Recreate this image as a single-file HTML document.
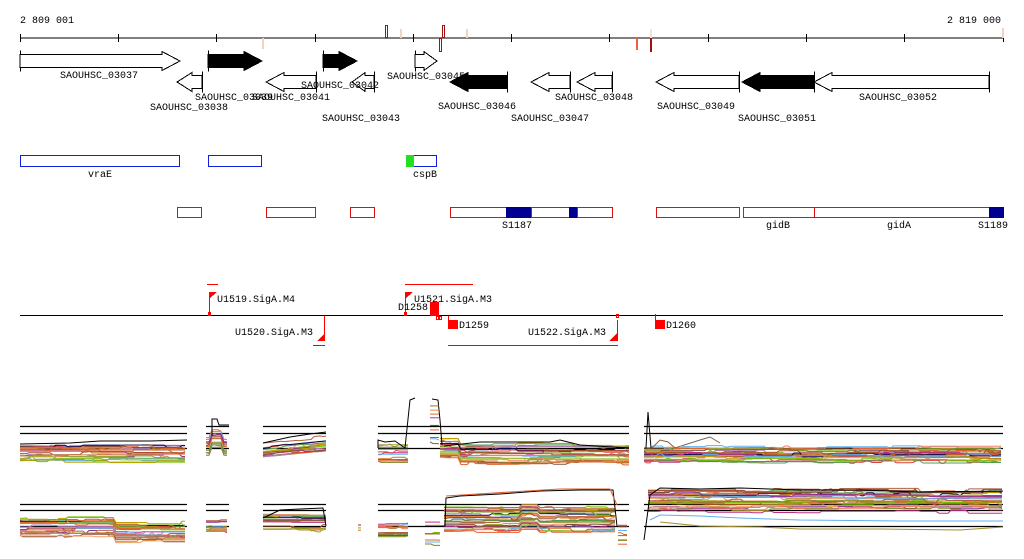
<!DOCTYPE html>
<html><head><meta charset="utf-8"><style>
html,body{margin:0;padding:0;background:#fff;width:1024px;height:559px;overflow:hidden}
svg text{font-family:"Liberation Mono","DejaVu Sans Mono",monospace;font-size:10px;fill:#000}
</style></head><body>
<svg id="s" width="1024" height="559" viewBox="0 0 1024 559" xmlns="http://www.w3.org/2000/svg" shape-rendering="crispEdges">
<text x="20" y="23">2 809 001</text>
<text x="947" y="23">2 819 000</text>
<line x1="20" y1="38" x2="1003" y2="38" stroke="#000"/>
<g stroke="#000">
<line x1="20.5" y1="34" x2="20.5" y2="42"/><line x1="118.5" y1="34" x2="118.5" y2="42"/><line x1="216.5" y1="34" x2="216.5" y2="42"/><line x1="315.5" y1="34" x2="315.5" y2="42"/><line x1="413.5" y1="34" x2="413.5" y2="42"/><line x1="511.5" y1="34" x2="511.5" y2="42"/><line x1="609.5" y1="34" x2="609.5" y2="42"/><line x1="708.5" y1="34" x2="708.5" y2="42"/><line x1="806.5" y1="34" x2="806.5" y2="42"/><line x1="904.5" y1="34" x2="904.5" y2="42"/><line x1="1003.5" y1="34" x2="1003.5" y2="42"/>
</g>
<g fill="none">
<rect x="385.5" y="25.5" width="2" height="12" stroke="#a01010"/>
<rect x="400.5" y="29.5" width="1" height="8" stroke="#f8d0c0"/>
<rect x="442.5" y="25.5" width="2" height="12" stroke="#a01010"/>
<rect x="439.5" y="38.5" width="2" height="13" stroke="#a01010"/>
<rect x="466.5" y="29.5" width="1" height="8" stroke="#f8d0c0"/>
<rect x="262.5" y="38.5" width="1" height="10" stroke="#f8d0c0"/>
<rect x="636.5" y="38.5" width="1" height="11" stroke="#f06040"/>
<rect x="650.5" y="38.5" width="1" height="13" stroke="#a01010"/>
<rect x="650.5" y="29.5" width="1" height="8" stroke="#f8e0d8"/>
<rect x="1002.5" y="28.5" width="1" height="9" stroke="#f8d0c0"/>
</g>
<g id="genes" stroke="#000" stroke-width="1"></g>
<g>
<text x="60" y="78">SAOUHSC_03037</text>
<text x="150" y="110">SAOUHSC_03038</text>
<text x="195" y="100">SAOUHSC_03039</text>
<text x="252" y="100">SAOUHSC_03041</text>
<text x="301" y="88">SAOUHSC_03042</text>
<text x="322" y="121">SAOUHSC_03043</text>
<text x="387" y="79">SAOUHSC_03045</text>
<text x="438" y="109">SAOUHSC_03046</text>
<text x="511" y="121">SAOUHSC_03047</text>
<text x="555" y="100">SAOUHSC_03048</text>
<text x="657" y="109">SAOUHSC_03049</text>
<text x="738" y="121">SAOUHSC_03051</text>
<text x="859" y="100">SAOUHSC_03052</text>
</g>
<g fill="none" stroke="#1020e0">
<rect x="20.5" y="155.5" width="159" height="11"/>
<rect x="208.5" y="155.5" width="53" height="11"/>
<rect x="413.5" y="155.5" width="23" height="11"/>
</g>
<rect x="406" y="155" width="8" height="12" fill="#20e020"/>
<text x="88" y="177">vraE</text>
<text x="413" y="177">cspB</text>
<g fill="none" stroke="#e01010">
<rect x="177.5" y="207.5" width="24" height="10"/>
<rect x="266.5" y="207.5" width="49" height="10"/>
<rect x="350.5" y="207.5" width="24" height="10"/>
<rect x="450.5" y="207.5" width="162" height="10"/>
<rect x="656.5" y="207.5" width="83" height="10"/>
<rect x="743.5" y="207.5" width="71" height="10"/>
<rect x="814.5" y="207.5" width="175" height="10"/>
</g>
<rect x="506" y="207" width="25" height="11" fill="#000090"/>
<rect x="569" y="207" width="8" height="11" fill="#000090"/>
<rect x="989" y="207" width="15" height="11" fill="#000090"/>
<line x1="531.5" y1="207" x2="531.5" y2="218" stroke="#e01010"/>
<line x1="577.5" y1="207" x2="577.5" y2="218" stroke="#e01010"/>
<text x="502" y="228">S1187</text>
<text x="766" y="228">gidB</text>
<text x="887" y="228">gidA</text>
<text x="978" y="228">S1189</text>
<line x1="20" y1="315.5" x2="1003" y2="315.5" stroke="#000"/>
<g fill="#f00" stroke="none">
<rect x="207" y="284" width="11" height="1"/>
<rect x="209" y="292" width="1" height="24"/>
<polygon points="209,292 217,292 209,299"/>
<rect x="208" y="312" width="3" height="4"/>
<rect x="405" y="284" width="68" height="1"/>
<rect x="405" y="292" width="1" height="24"/>
<polygon points="405,292 413,292 405,299"/>
<rect x="404" y="312" width="3" height="4"/>
<rect x="430" y="302" width="9" height="14"/>
<rect x="324" y="316" width="1" height="24"/>
<polygon points="325,333 325,341 317,341"/>
<rect x="313" y="345" width="12" height="1"/>
<rect x="448" y="316" width="1" height="4"/>
<rect x="448" y="320" width="10" height="9"/>
<rect x="617" y="320" width="1" height="21"/>
<polygon points="617,333 617,341 609,341"/>
<rect x="448" y="345" width="170" height="1"/>
<rect x="655" y="314" width="1" height="6"/>
<rect x="655" y="320" width="10" height="9"/>
</g>
<rect x="436.5" y="316.5" width="2" height="3" fill="none" stroke="#f00"/>
<rect x="439.5" y="316.5" width="2" height="3" fill="none" stroke="#f00"/>
<rect x="616.5" y="314.5" width="2" height="3" fill="none" stroke="#f00"/>
<text x="217" y="302">U1519.SigA.M4</text>
<text x="414" y="302">U1521.SigA.M3</text>
<text x="398" y="310">D1258</text>
<text x="235" y="335">U1520.SigA.M3</text>
<text x="459" y="328">D1259</text>
<text x="528" y="335">U1522.SigA.M3</text>
<text x="666" y="328">D1260</text>
<g id="plots" fill="none" stroke-width="1" shape-rendering="auto"></g>
</svg>
<script>
(function(){
var NS="http://www.w3.org/2000/svg";
var g=document.getElementById('genes');
function el(t,a,p){var e=document.createElementNS(NS,t);for(var k in a)e.setAttribute(k,a[k]);(p||g).appendChild(e);return e;}
function arrow(x1,x2,cy,dir,fill){
 var h=Math.min(18,(x2-x1)*0.6), b=6.5, H=9.5, pts;
 if(dir>0){pts=[[x1,cy-b],[x2-h,cy-b],[x2-h,cy-H],[x2,cy],[x2-h,cy+H],[x2-h,cy+b],[x1,cy+b]];
   el('line',{x1:x1+.5,y1:cy-H-1,x2:x1+.5,y2:cy+H+1});}
 else{pts=[[x2,cy-b],[x1+h,cy-b],[x1+h,cy-H],[x1,cy],[x1+h,cy+H],[x1+h,cy+b],[x2,cy+b]];
   el('line',{x1:x2+.5,y1:cy-H-1,x2:x2+.5,y2:cy+H+1});}
 el('polygon',{points:pts.map(function(p){return p.join(',')}).join(' '),fill:fill});
}
arrow(20,180,61,1,'#fff');
arrow(208,262,61,1,'#000');
arrow(323,357,61,1,'#000');
arrow(415,437,61,1,'#fff');
arrow(177,202,82,-1,'#fff');
arrow(266,316,82,-1,'#fff');
arrow(352,374,82,-1,'#fff');
arrow(450,507,82,-1,'#000');
arrow(531,570,82,-1,'#fff');
arrow(577,612,82,-1,'#fff');
arrow(656,739,82,-1,'#fff');
arrow(742,814,82,-1,'#000');
arrow(814,989,82,-1,'#fff');
var P=document.getElementById('plots');
var seed=7;function rnd(){seed=(seed*16807)%2147483647;return seed/2147483647;}
var cols=['#e06030','#d07020','#70c000','#a05030','#c03080','#60b0f0','#808020','#b06040','#903090','#f08060','#a0a040','#c08040','#e04040','#50a050','#b080c0','#000050','#c0a000','#805040','#f0a060','#90c030'];
function hline(x1,x2,y){el('line',{x1:x1,y1:y+.5,x2:x2,y2:y+.5,stroke:'#000','stroke-width':1.3},P);}
function bundle(x1,x2,ymin,ymax,n,f){
 for(var i=0;i<n;i++){
  var base=ymin+(ymax-ymin)*rnd(), y=base, pts=[], c=cols[i%cols.length];
  for(var x=x1;x<=x2;x+=3){
   if(rnd()<0.12) y=base+(rnd()-0.5)*4;
   var yy=y+(f?f(x,i):0);
   pts.push(x+','+yy.toFixed(1));
  }
  el('polyline',{points:pts.join(' '),stroke:c},P);
 }
}
var segs=[[20,187],[206,229],[263,326],[378,629],[644,1003]];
segs.forEach(function(s){[426,433,448].forEach(function(y){hline(s[0],s[1],y);});});
bundle(20,187,446,461,22);
el('polyline',{points:'20,444 70,443 100,441 150,441 187,440',stroke:'#000'},P);
bundle(206,229,438,456,14,function(x){return x>210&&x<222?-8:0;});
el('polyline',{points:'212,436 212,419 217,419 219,425 229,425',stroke:'#000'},P);
bundle(263,326,443,458,18,function(x){return -(x-263)*0.1;});
el('polyline',{points:'263,443 290,437 310,434 326,432',stroke:'#000'},P);
bundle(378,409,444,462,14);
bundle(440,629,444,465,24,function(x){return x<460?-6:0;});
bundle(644,1003,447,462,26);
el('polyline',{points:'378,448 378,440 385,442 395,441 405,448 410,400 415,398',stroke:'#000'},P);
el('polyline',{points:'432,399 438,400 440,420 442,445',stroke:'#000'},P);
el('polyline',{points:'444,446 480,442 550,442 560,440 580,445 629,448',stroke:'#000'},P);
bundle(430,440,400,445,10);
el('polyline',{points:'646,448 648,412 651,448',stroke:'#000'},P);
el('polyline',{points:'652,448 660,440 668,442 675,448 700,440 710,437 720,443',stroke:'#806040'},P);
segs.forEach(function(s){[504,510,526].forEach(function(y){hline(s[0],s[1],y);});});
bundle(20,187,518,536,22,function(x){return x>113?5:0;});
bundle(206,229,520,532,12);
bundle(263,326,514,532,18);
el('polyline',{points:'263,518 280,510 300,509 323,508 326,526',stroke:'#000'},P);
bundle(358,361,522,532,4);
bundle(378,410,522,542,14);
bundle(425,440,515,545,8);
bundle(444,616,506,532,28,function(x){return x>520&&x<540?-3:0;});
el('polyline',{points:'440,526 445,526 446,498 460,496 500,494 540,491 580,490 613,490 617,526',stroke:'#000'},P);
el('polyline',{points:'446,496 510,492 560,489 610,489 617,505',stroke:'#e06030'},P);
bundle(618,629,525,545,8);
bundle(648,1003,489,512,30);
el('polyline',{points:'644,540 650,495 660,488 700,489 740,488 800,490 860,490 920,492 1003,491',stroke:'#000'},P);
el('polyline',{points:'650,520 660,515 700,516 740,518 800,520 900,521 1003,521',stroke:'#60b0f0'},P);
el('polyline',{points:'660,522 700,526 760,527 800,529 880,529 960,530 1003,527',stroke:'#a09030'},P);
})();
</script>
</body></html>
